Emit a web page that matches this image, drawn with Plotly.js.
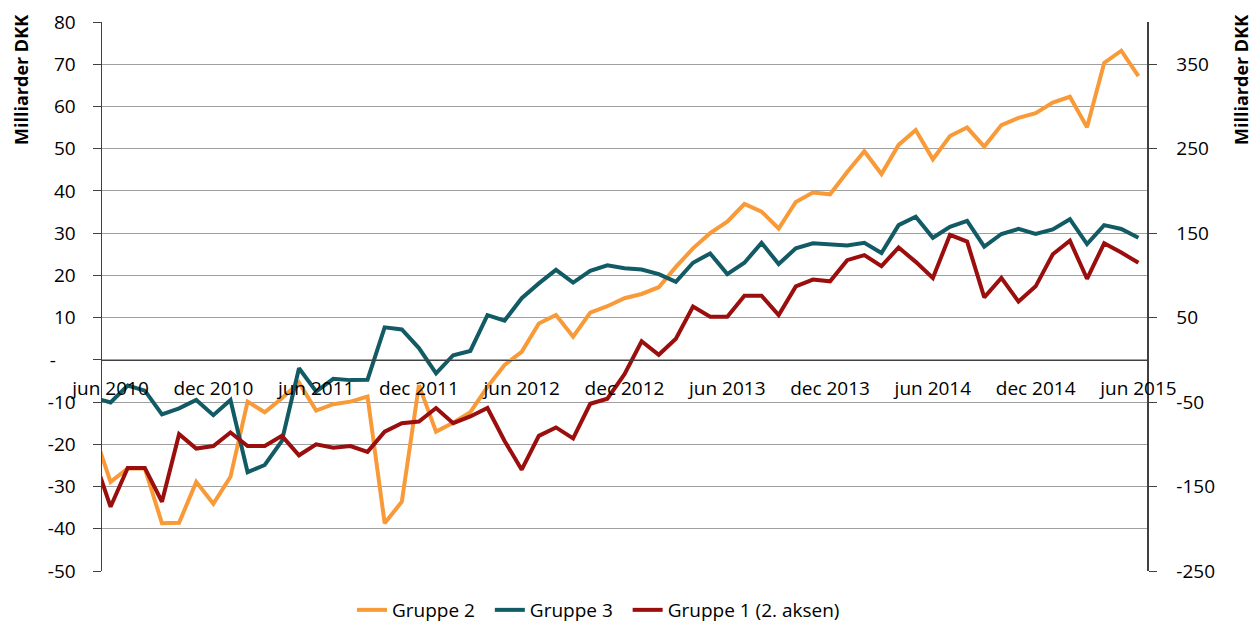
<!DOCTYPE html>
<html>
<head>
<meta charset="utf-8">
<script src="https://cdn.plot.ly/plotly-3.0.1.min.js"></script>
<style>
html,body{margin:0;padding:0;background:#fff;}
#chart{width:1252px;height:624px;}
</style>
</head>
<body>
<div id="chart"></div>
<script>
// Months (first point 'maj 2010' lies just left of the visible axis range)
var months = [
 'maj 2010','jun 2010','jul 2010','aug 2010','sep 2010','okt 2010','nov 2010','dec 2010',
 'jan 2011','feb 2011','mar 2011','apr 2011','maj 2011','jun 2011','jul 2011','aug 2011','sep 2011','okt 2011','nov 2011','dec 2011',
 'jan 2012','feb 2012','mar 2012','apr 2012','maj 2012','jun 2012','jul 2012','aug 2012','sep 2012','okt 2012','nov 2012','dec 2012',
 'jan 2013','feb 2013','mar 2013','apr 2013','maj 2013','jun 2013','jul 2013','aug 2013','sep 2013','okt 2013','nov 2013','dec 2013',
 'jan 2014','feb 2014','mar 2014','apr 2014','maj 2014','jun 2014','jul 2014','aug 2014','sep 2014','okt 2014','nov 2014','dec 2014',
 'jan 2015','feb 2015','mar 2015','apr 2015','maj 2015','jun 2015'
];

var tickMonths = ['jun 2010','dec 2010','jun 2011','dec 2011','jun 2012','dec 2012','jun 2013','dec 2013','jun 2014','dec 2014','jun 2015'];

// Gruppe 2 (left axis, mia. DKK)
var gruppe2 = [
 -16.9,
 -28.9,-25.7,-25.7,-38.7,-38.6,-28.9,-34.1,-27.7,-9.9,-12.4,
 -9.1,-5.4,-12.0,-10.5,-9.9,-8.7,-38.7,-33.6,-6.0,-17.0,
 -14.9,-12.4,-6.4,-1.2,1.9,8.6,10.6,5.5,11.2,12.7,
 14.6,15.6,17.2,22.0,26.4,30.0,32.7,36.9,35.1,31.1,
 37.4,39.6,39.2,44.5,49.4,44.0,50.9,54.4,47.5,53.0,
 55.0,50.5,55.6,57.3,58.4,60.9,62.3,55.1,70.3,73.2,
 67.2
];

// Gruppe 3 (left axis, mia. DKK)
var gruppe3 = [
 -8.9,
 -10.1,-6.1,-7.3,-12.9,-11.5,-9.5,-13.1,-9.5,-26.6,-24.9,
 -19.2,-2.0,-7.5,-4.5,-4.8,-4.7,7.7,7.2,2.8,-3.2,
 1.1,2.1,10.6,9.3,14.6,18.1,21.3,18.3,21.1,22.4,
 21.7,21.4,20.3,18.5,23.0,25.2,20.3,23.0,27.7,22.7,
 26.4,27.6,27.3,27.1,27.7,25.3,31.9,33.9,28.9,31.5,
 32.9,26.8,29.8,31.0,29.8,30.9,33.3,27.4,31.9,31.0,
 28.9
];

// Gruppe 1 (right axis, mia. DKK)
var gruppe1 = [
 -114,
 -174,-128,-128,-168,-88,-105,-102,-86,-102,-102,
 -90,-113,-100,-104,-102,-109,-85,-75,-73,-57,
 -75,-67,-57,-96,-130,-90,-80,-93,-52,-46,
 -17,22,6,25,63,51,51,76,76,53,
 87,95,93,118,124,111,133,116,97,148,
 140,74,97,69,87,125,141,96,138,127,
 115
];

var leftTicks = [-50,-40,-30,-20,-10,0,10,20,30,40,50,60,70,80];
var leftTickText = ['-50','-40','-30','-20','-10','-\u00a0\u00a0\u00a0\u00a0','10','20','30','40','50','60','70','80'];
var rightTicks = [-250,-150,-50,50,150,250,350];
var rightTickText = ['-250','-150','-50','50','150','250','350'];

var seriesNames = ['Gruppe 2', 'Gruppe 3', 'Gruppe 1 (2. aksen)'];

var FONT = 'Open Sans, Liberation Sans, sans-serif';
var FS = 19;

var traces = [
 {x: months, y: gruppe2, name: seriesNames[0] + '\u00a0\u00a0', type: 'scatter', mode: 'lines',
  line: {color: '#F99A38', width: 4}, yaxis: 'y'},
 {x: months, y: gruppe3, name: seriesNames[1] + '\u00a0\u00a0', type: 'scatter', mode: 'lines',
  line: {color: '#125A64', width: 4}, yaxis: 'y'},
 {x: months, y: gruppe1, name: seriesNames[2], type: 'scatter', mode: 'lines',
  line: {color: '#9A0E0E', width: 4}, yaxis: 'y2'}
];

var layout = {
 width: 1252, height: 624,
 margin: {l: 102, r: 105, t: 22, b: 53, pad: 0},
 paper_bgcolor: '#ffffff', plot_bgcolor: '#ffffff',
 font: {family: FONT, size: FS, color: '#000000'},
 showlegend: true,
 legend: {orientation: 'h', xref: 'container', yref: 'container',
  x: 352/1252, xanchor: 'left', y: 14/624, yanchor: 'middle',
  font: {family: FONT, size: FS, color: '#000'},
  traceorder: 'normal', bgcolor: 'rgba(0,0,0,0)'},
 xaxis: {
  type: 'category', range: [0.5, 61.5], anchor: 'free', position: 50/130,
  tickmode: 'array', tickvals: tickMonths, ticktext: tickMonths,
  ticks: '', showgrid: false, zeroline: false,
  showline: true, linecolor: '#404040', linewidth: 1.5,
  ticklabelstandoff: 11,
  tickfont: {family: FONT, size: FS, color: '#000'}, tickangle: 0
 },
 yaxis: {
  range: [-50, 80], tickmode: 'array', tickvals: leftTicks, ticktext: leftTickText,
  showgrid: true, gridcolor: '#a0a0a0', gridwidth: 1, zeroline: false,
  showline: true, linecolor: '#404040', linewidth: 1.5,
  ticks: 'outside', ticklen: 8, tickcolor: '#404040', ticklabelstandoff: 13,
  tickfont: {family: FONT, size: FS, color: '#000'}
 },
 yaxis2: {
  range: [-250, 400], overlaying: 'y', side: 'right', anchor: 'x',
  tickmode: 'array', tickvals: rightTicks, ticktext: rightTickText,
  showgrid: false, zeroline: false,
  showline: true, linecolor: '#404040', linewidth: 1.5,
  ticks: 'outside', ticklen: 8, tickcolor: '#404040', ticklabelstandoff: 16,
  tickfont: {family: FONT, size: FS, color: '#000'}
 },
 annotations: [
  {text: '<b>Milliarder DKK</b>', xref: 'paper', yref: 'paper', x: (21-102)/1045, y: (571-80)/549,
   xanchor: 'center', yanchor: 'middle', textangle: -90, showarrow: false,
   font: {family: FONT, size: 18, color: '#000'}},
  {text: '<b>Milliarder DKK</b>', xref: 'paper', yref: 'paper', x: (1241-102)/1045, y: (571-80)/549,
   xanchor: 'center', yanchor: 'middle', textangle: -90, showarrow: false,
   font: {family: FONT, size: 18, color: '#000'}}
 ]
};

Plotly.newPlot('chart', traces, layout, {displayModeBar: false, staticPlot: true});
</script>
</body>
</html>
